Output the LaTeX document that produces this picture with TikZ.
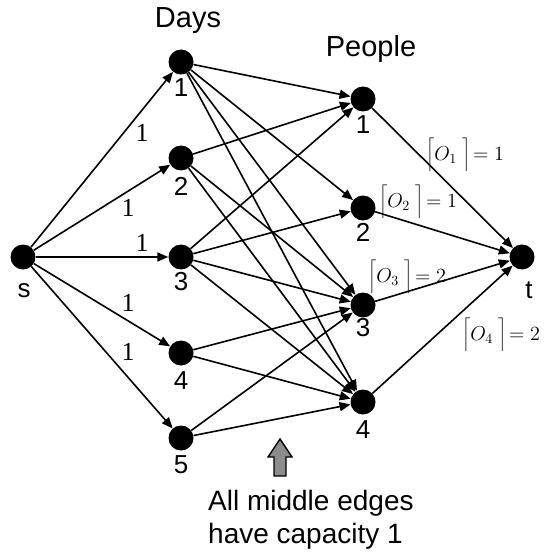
\documentclass[tikz,border=0pt]{standalone}
\usepackage{fontspec}
\setmainfont{Liberation Sans}
\newfontfamily\seriffam{Liberation Serif}
\usetikzlibrary{arrows.meta}
\newcommand{\olabtext}[2]{\scalebox{1.4}{$\bigg\lceil O_{#1}\;\bigg\rceil\!=#2$}}
\begin{document}
\begin{tikzpicture}[x=1pt,y=-1pt,
  dot/.style={circle,fill=black,inner sep=0pt,minimum size=25pt},
  edge/.style={line width=1.6pt,-{Triangle[length=11pt,width=9pt]}},
  num/.style={font=\fontsize{26}{30}\selectfont,inner sep=0pt},
  caplab/.style={font=\seriffam\fontsize{26}{30}\selectfont,inner sep=0pt},
  olab/.style={font=\fontsize{14.4}{17}\selectfont,inner sep=0pt},
  title/.style={font=\fontsize{29}{34}\selectfont,inner sep=0pt,anchor=base},
  note/.style={font=\fontsize{28}{32}\selectfont,inner sep=0pt,anchor=base west}]
\useasboundingbox (0,0) rectangle (543,553);
% nodes
\node[dot] (s) at (23,257) {};
\node[dot] (t) at (522,257) {};
\node[dot] (d1) at (181,62) {};
\node[dot] (d2) at (181,158) {};
\node[dot] (d3) at (181,257) {};
\node[dot] (d4) at (181,353) {};
\node[dot] (d5) at (181,438) {};
\node[dot] (p1) at (363,99) {};
\node[dot] (p2) at (363,208) {};
\node[dot] (p3) at (363,305) {};
\node[dot] (p4) at (363,402) {};
% node labels
\node[num] (ls) at (24,291) {s};
\node[num] (lt) at (529,290) {t};
\node[num] (ld1) at (181,88) {1};
\node[num] (ld2) at (181,186) {2};
\node[num] (ld3) at (181,282) {3};
\node[num] (ld4) at (181,381) {4};
\node[num] (ld5) at (181,465) {5};
\node[num] (lp1) at (363,125) {1};
\node[num] (lp2) at (363,232) {2};
\node[num] (lp3) at (363,328) {3};
\node[num] (lp4) at (363,430) {4};
% titles
\node[title] (days) at (188,28) {Days};
\node[title] (people) at (371,57) {People};
% edges s -> days
\foreach \d in {d1,d2,d3,d4,d5} \draw[edge] (s) -- (\d);
% middle edges
\foreach \a/\b in {d1/p1,d1/p2,d1/p3,d1/p4,d2/p1,d2/p3,d2/p4,d3/p1,d3/p2,d3/p3,d3/p4,d4/p3,d4/p4,d5/p3,d5/p4}
  \draw[edge] (\a) -- (\b);
% people -> t
\foreach \p in {p1,p2,p3,p4} \draw[edge] (\p) -- (t);
% capacity labels
\node[caplab] (c1) at (142,133) {1};
\node[caplab] (c2) at (128,208) {1};
\node[caplab] (c3) at (142,243) {1};
\node[caplab] (c4) at (128,303) {1};
\node[caplab] (c5) at (128,352) {1};
% O labels
\node[olab] (o1) at (465,155) {\olabtext{1}{1}};
\node[olab] (o2) at (418,202) {\olabtext{2}{1}};
\node[olab] (o3) at (407,277) {\olabtext{3}{2}};
\node[olab] (o4) at (501,335) {\olabtext{4}{2}};
% big arrow
\draw[line width=1.4pt,fill=black!45,line join=miter]
  (274,476) -- (274,457) -- (268,457) -- (280,439) -- (292,457) -- (286,457) -- (286,476) -- cycle;
% note
\node[note] (n1) at (208,510) {All middle edges};
\node[note] (n2) at (208,543) {have capacity 1};
\end{tikzpicture}
\end{document}
